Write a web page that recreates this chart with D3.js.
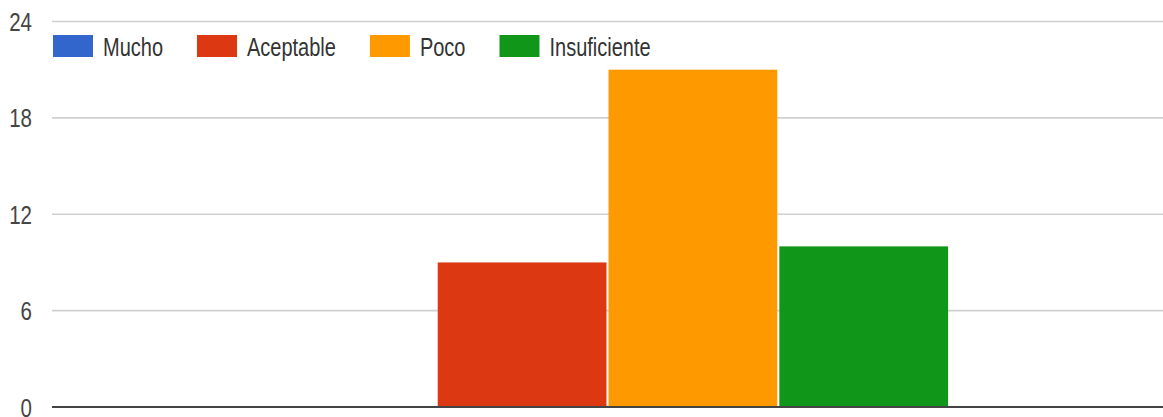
<!DOCTYPE html>
<html>
<head>
<meta charset="utf-8">
<script src="https://cdn.jsdelivr.net/npm/d3@7"></script>
<style>
  html, body { margin: 0; padding: 0; background: #fff; }
  svg { display: block; }
  text { font-family: "Liberation Sans", Arial, sans-serif; }
</style>
</head>
<body>
<svg id="chart" width="1163" height="417"></svg>
<script>
// ---- data ----
const categories = [""];
const seriesNames = ["Mucho", "Aceptable", "Poco", "Insuficiente"];
const seriesValues = [0, 9, 21, 10];
const seriesColors = ["#3366cc", "#dc3912", "#ff9900", "#109618"];
const yTicks = [0, 6, 12, 18, 24];

// ---- layout ----
const plot = { left: 52, right: 1163, top: 21.5, bottom: 407 };
const svg = d3.select("#chart");

const y = d3.scaleLinear().domain([0, 24]).range([plot.bottom, plot.top]);
const x0 = d3.scaleBand().domain(categories).range([plot.left, plot.right]).paddingOuter(0.3155).paddingInner(0);
const x1 = d3.scaleBand().domain(seriesNames).range([0, x0.bandwidth()]).paddingInner(0.012).paddingOuter(0);

// gridlines
const grid = svg.append("g");
grid.selectAll("line").data(yTicks.filter(d => d !== 0)).join("line")
  .attr("x1", plot.left).attr("x2", plot.right)
  .attr("y1", d => y(d)).attr("y2", d => y(d))
  .attr("stroke", "#d0d0d0").attr("stroke-width", 1.6);

// y labels
const yAxis = d3.axisLeft(y).tickValues(yTicks).tickSize(0).tickPadding(0);
const ya = svg.append("g").attr("transform", `translate(${plot.left - 20},0)`).call(yAxis);
ya.select(".domain").remove();
ya.selectAll("text")
  .attr("font-size", 25).attr("fill", "#444")
  .attr("font-family", "Liberation Sans, Arial, sans-serif")
  .attr("dy", "0.36em")
  .attr("x", 0)
  .attr("text-anchor", "end")
  .each(function(d) {
    const yy = y(d);
    d3.select(this).attr("transform", `translate(0,${yy}) scale(0.82,1) translate(0,${-yy})`);
  });

// bars
const groups = svg.append("g").selectAll("g").data(categories).join("g")
  .attr("transform", d => `translate(${x0(d)},0)`);
groups.selectAll("rect")
  .data(() => seriesNames.map((s, i) => ({ s, v: seriesValues[i], c: seriesColors[i] })))
  .join("rect")
  .attr("x", d => x1(d.s))
  .attr("width", x1.bandwidth())
  .attr("y", d => y(d.v))
  .attr("height", d => y(0) - y(d.v))
  .attr("fill", d => d.c);

// baseline
svg.append("line")
  .attr("x1", plot.left).attr("x2", plot.right)
  .attr("y1", y(0)).attr("y2", y(0))
  .attr("stroke", "#444").attr("stroke-width", 2);

// legend
const leg = svg.append("g");
let lx = 53;
const sx = 0.8;
seriesNames.forEach((name, i) => {
  leg.append("rect").attr("x", lx).attr("y", 35).attr("width", 40).attr("height", 22)
    .attr("fill", seriesColors[i]);
  const tx = lx + 50;
  const t = leg.append("text")
    .attr("transform", `translate(${tx},56) scale(${sx},1)`)
    .attr("font-size", 25).attr("fill", "#333")
    .text(name);
  const w = t.node().getComputedTextLength() * sx;
  lx = tx + w + 34;
});
</script>
</body>
</html>
